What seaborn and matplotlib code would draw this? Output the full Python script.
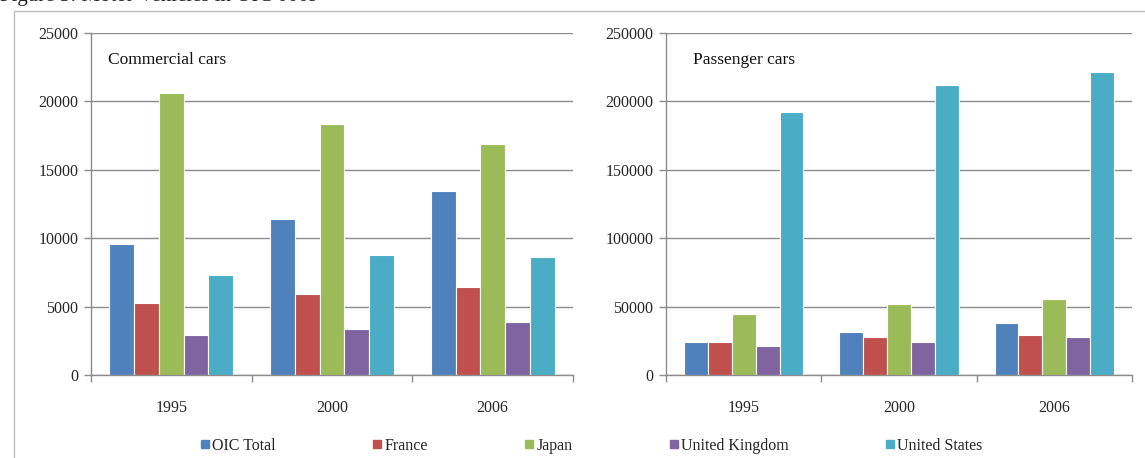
import matplotlib
matplotlib.use("Agg")
import matplotlib.pyplot as plt
import seaborn as sns
import pandas as pd
from matplotlib.lines import Line2D
from matplotlib.patches import Rectangle

years = ["1995", "2000", "2006"]
countries = ["OIC Total", "France", "Japan", "United Kingdom", "United States"]
colors = ["#4F81BD", "#C0504D", "#9BBB59", "#8064A2", "#4BACC6"]

commercial = {
    "OIC Total": [9600, 11400, 13450],
    "France": [5280, 5900, 6430],
    "Japan": [20600, 18380, 16900],
    "United Kingdom": [2920, 3360, 3870],
    "United States": [7310, 8750, 8630],
}
passenger = {
    "OIC Total": [24300, 31200, 37800],
    "France": [24300, 27500, 29200],
    "Japan": [44600, 51700, 55800],
    "United Kingdom": [21200, 24300, 27500],
    "United States": [192500, 212000, 221300],
}
comm_ticks = [0, 5000, 10000, 15000, 20000, 25000]
pass_ticks = [0, 50000, 100000, 150000, 200000, 250000]


def to_long(d):
    rows = []
    for c in countries:
        for y, v in zip(years, d[c]):
            rows.append({"year": y, "country": c, "value": v})
    return pd.DataFrame(rows)


sns.set_theme(style="white")
plt.rcParams["font.family"] = ["Liberation Serif", "DejaVu Serif"]

fig = plt.figure(figsize=(11.45, 4.58), dpi=100)
W, H = 1145, 458

# outer frame (partially cut by figure edge)
fig.patches.append(Rectangle((14 / W, -0.05), 1.2, (1 - 11 / H) + 0.05,
                             transform=fig.transFigure, fill=False,
                             edgecolor="#BFBFBF", linewidth=1.0))
fig.text(0.0, 1 + 4 / H, "Figure 3: Motor Vehicles in OIC 000s", fontsize=15,
         va="center", ha="left", color="#222222")

grid_c = "#8C8C8C"
ax1 = fig.add_axes([91 / W, 1 - 375 / H, 482 / W, 342 / H])
ax2 = fig.add_axes([666 / W, 1 - 375 / H, 466 / W, 342 / H])

for ax, d, ticks, title, tx in [
    (ax1, commercial, comm_ticks, "Commercial cars", 108),
    (ax2, passenger, pass_ticks, "Passenger cars", 693),
]:
    df = to_long(d)
    sns.barplot(data=df, x="year", y="value", hue="country", order=years,
                hue_order=countries, palette=colors, width=0.77, ax=ax,
                edgecolor="white", linewidth=0.8, legend=False, saturation=1)
    ax.set_ylim(ticks[0], ticks[-1])
    ax.set_xlim(-0.5, 2.5)
    ax.set_yticks(ticks)
    ax.set_yticklabels([str(t) for t in ticks], fontsize=11.5)
    ax.yaxis.grid(True, color=grid_c, linewidth=1.0)
    ax.set_axisbelow(True)
    ax.set_xlabel("")
    ax.set_ylabel("")
    ax.set_xticks([0, 1, 2])
    ax.set_xticklabels(years, fontsize=11.5)
    ax.set_xticks([-0.5, 0.5, 1.5, 2.5], minor=True)
    ax.tick_params(axis="x", which="major", length=0, pad=18)
    ax.tick_params(axis="x", which="minor", length=5, color=grid_c, width=1, direction="out", bottom=True)
    ax.tick_params(axis="y", length=5, color=grid_c, width=1, direction="out", left=True, pad=4)
    for s in ["top", "right"]:
        ax.spines[s].set_visible(False)
    for s in ["left", "bottom"]:
        ax.spines[s].set_color(grid_c)
        ax.spines[s].set_linewidth(1.0)
    fig.text(tx / W, 1 - 60 / H, title, fontsize=12.5, va="center", ha="left", color="#111111")

handles = [Line2D([0], [0], marker="s", linestyle="none", markersize=6,
                  markerfacecolor=c, markeredgecolor=c) for c in colors]
fig.legend(handles, countries, loc="center", bbox_to_anchor=(591 / W, 1 - 446 / H),
           ncol=5, frameon=False, fontsize=11.5, handletextpad=0.1,
           columnspacing=6.0, handlelength=0.7)

fig.savefig("out.png", dpi=100)
